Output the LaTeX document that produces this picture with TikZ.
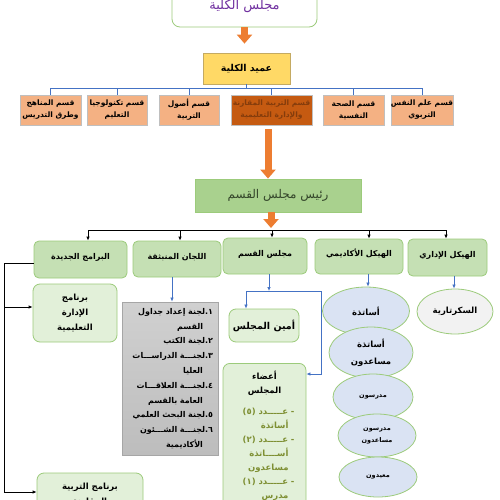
\documentclass[tikz,border=0pt]{standalone}
\usepackage{fontspec}
\newfontfamily\arabicfont[Script=Arabic]{DejaVu Sans}
\TeXXeTstate=1
\usetikzlibrary{arrows.meta, positioning, shapes.geometric}

\definecolor{titlepurple}{HTML}{7030A0}
\definecolor{boxborder}{HTML}{9CCB7B}
\definecolor{deanfill}{HTML}{FFD966}
\definecolor{deanborder}{HTML}{C4AA62}
\definecolor{deptfill}{HTML}{F4B183}
\definecolor{deptborder}{HTML}{BFBFBF}
\definecolor{compfill}{HTML}{C55A11}
\definecolor{comptext}{HTML}{843C0C}
\definecolor{chairfill}{HTML}{A9D18E}
\definecolor{chairtext}{HTML}{34462A}
\definecolor{levelfill}{HTML}{C5E0B4}
\definecolor{lightfill}{HTML}{E2F0D9}
\definecolor{ovalfill}{HTML}{DAE3F3}
\definecolor{secfill}{HTML}{F2F2F2}
\definecolor{greytop}{HTML}{D0D0D0}
\definecolor{greybottom}{HTML}{BDBDBD}
\definecolor{greyborder}{HTML}{A6A6A6}
\definecolor{bluebus}{HTML}{4472C4}
\definecolor{orangefill}{HTML}{ED7D31}
\definecolor{olivetext}{HTML}{7E8F33}

\newcommand{\artext}[1]{{\arabicfont\beginR #1\endR}}

\begin{document}
\begin{tikzpicture}[
		x=1pt, y=-1pt,
		every node/.style={align=center, inner sep=0pt},
		fat arrow/.style={line width=7pt, draw=orangefill, -{Triangle[length=9pt, width=15pt]}},
		blue line/.style={draw=bluebus, line width=0.7pt},
		blue arrow/.style={blue line, -{Latex[length=4pt, width=3.5pt]}},
		black line/.style={draw=black, line width=0.8pt},
		black arrow/.style={black line, -{Latex[length=4pt, width=3.5pt]}},
		dept box/.style={draw=deptborder, fill=deptfill, line width=0.8pt, minimum height=30pt, font=\bfseries\fontsize{7.5}{12}\selectfont},
		level box/.style={draw=boxborder, fill=levelfill, rounded corners=5pt, line width=0.8pt, text height=8pt, text depth=8pt, font=\bfseries\fontsize{8}{10}\selectfont},
		light box/.style={draw=boxborder, fill=lightfill, rounded corners=7pt, line width=0.8pt, font=\bfseries\fontsize{8.5}{15}\selectfont},
		staff oval/.style={ellipse, draw=boxborder, fill=ovalfill, line width=0.8pt, font=\bfseries\fontsize{8.5}{17}\selectfont},
		small oval/.style={staff oval, font=\bfseries\fontsize{6.5}{12}\selectfont}
		]
		
		\fill[white] (0,0) rectangle (500,500);
		\useasboundingbox (0,0) rectangle (500,500);
		
		% Faculty
		\node[draw=boxborder, fill=white, rounded corners=8pt, line width=0.8pt, minimum width=145pt, minimum height=42pt, text=titlepurple, font=\fontsize{13}{15}\selectfont] (college) at (244.5,6) {\artext{مجلس الكلية}};
		\node[draw=deanborder, fill=deanfill, line width=0.8pt, minimum width=87pt, minimum height=31pt, font=\bfseries\fontsize{9.5}{11}\selectfont] (dean) at (246.5,68.5) {\artext{عميد الكلية}};
		
		% Departments
		\node[dept box, minimum width=61pt] (curr) at (50.5,110) {\artext{قسم المناهج}\\\artext{وطرق التدريس}};
		\node[dept box, minimum width=60pt] (tech) at (117,110) {\artext{قسم تكنولوجيا}\\\artext{التعليم}};
		\node[dept box, minimum width=60pt] (found) at (189,110) {\artext{قسم أصول}\\\artext{التربية}};
		\node[dept box, minimum width=81pt, fill=compfill, text=comptext] (comp) at (271.5,110) {\artext{قسم التربية المقارنة}\\\artext{والإدارة التعليمية}};
		\node[dept box, minimum width=61pt] (mental) at (353.5,110) {\artext{قسم الصحة}\\\artext{النفسية}};
		\node[dept box, minimum width=60pt] (psych) at (422,110) {\artext{قسم علم النفس}\\\artext{التربوي}};
		
		% Department council
		\node[draw=boxborder, fill=chairfill, line width=0.8pt, minimum width=166pt, minimum height=33pt, text=chairtext, font=\fontsize{12}{14}\selectfont] (chair) at (278,195.5) {\artext{رئيس مجلس القسم}};
		
		\node[level box, minimum width=93pt, minimum height=37pt] (newprog) at (80.5,259.5) {\artext{البرامج الجديدة}};
		\node[level box, minimum width=88pt, minimum height=36pt] (comm) at (177,259) {\artext{اللجان المنبثقة}};
		\node[level box, minimum width=84pt, minimum height=36pt] (dcouncil) at (265,256) {\artext{مجلس القسم}};
		\node[level box, minimum width=88pt, minimum height=35pt] (acad) at (359,256.5) {\artext{الهيكل الأكاديمي}};
		\node[level box, minimum width=79pt, minimum height=37pt] (admin) at (447.5,257.5) {\artext{الهيكل الإداري}};
		
		% Programmes
		\node[light box, minimum width=84pt, minimum height=58pt] (mgmtprog) at (75,313) {\artext{برنامج}\\\artext{الإدارة}\\\artext{التعليمية}};
		\node[light box, minimum width=106pt, minimum height=43pt] (compprog) at (90,494.5) {\artext{برنامج التربية}\\\artext{المقارنة}};
		
		% Committees
		\node[draw=greyborder, top color=greytop, bottom color=greybottom, line width=0.8pt, minimum width=96pt, minimum height=153pt, text width=86pt, align=right, font=\bfseries\fontsize{8}{14.8}\selectfont] (committees) at (170,378.5) {%
			\artext{١\kern0pt.\kern0pt لجنة إعداد جداول}\\
			\artext{القسم}\kern10pt\\
			\artext{٢\kern0pt.\kern0pt لجنة الكتب}\\
			\artext{٣\kern0pt.\kern0pt لجنـــة الدراســـات}\\
			\artext{العليا}\kern10pt\\
			\artext{٤\kern0pt.\kern0pt لجنـــة العلاقـــات}\\
			\artext{العامة بالقسم}\kern10pt\\
			\artext{٥\kern0pt.\kern0pt لجنة البحث العلمي}\\
			\artext{٦\kern0pt.\kern0pt لجنـــة الشـــئون}\\
			\artext{الأكاديمية}\kern10pt};
		
		% Council members
		\node[light box, minimum width=70pt, minimum height=33pt, font=\bfseries\fontsize{9.5}{15}\selectfont] (amin) at (264,325.5) {\artext{أمين المجلس}};
		\node[light box, anchor=north, text width=60pt, align=right, inner xsep=11.5pt, inner ysep=8pt, font=\bfseries\fontsize{8.5}{14}\selectfont] (members) at (264.5,363) {%
			\makebox[60pt]{\artext{أعضاء}}\\
			\makebox[60pt]{\artext{المجلس}}\\[7pt]
			{\color{olivetext}\artext{- عـــــدد \beginL(٥)\endL}\\
			\artext{أساتذة}\kern6pt\\
			\artext{- عـــــدد \beginL(٢)\endL}\\
			\artext{أســــاتذة}\kern6pt\\
			\artext{مساعدون}\kern6pt\\
			\artext{- عـــــدد \beginL(١)\endL}\\
			\artext{مدرس}\kern6pt}};
		
		% Academic staff
		\node[staff oval, minimum width=87pt, minimum height=48pt] (prof) at (366,311) {\artext{أساتذة}};
		\node[staff oval, minimum width=84pt, minimum height=51pt] (assoc) at (371,352.5) {\artext{أساتذة}\\\artext{مساعدون}};
		\node[small oval, minimum width=80pt, minimum height=46pt] (lect) at (373,397) {\artext{مدرسون}};
		\node[small oval, minimum width=78pt, minimum height=43pt] (asslect) at (377,435.5) {\artext{مدرسون}\\\artext{مساعدون}};
		\node[small oval, minimum width=78pt, minimum height=40pt] (demo) at (378,477) {\artext{معيدون}};
		\node[staff oval, fill=secfill, minimum width=76pt, minimum height=45pt] (sec) at (455,311.5) {\artext{السكرتارية}};
		
		% Connectors
		\draw[fat arrow, shorten >=9pt] (college.south) -- (college.south |- dean.north);
		\foreach \d in {curr,tech,found,comp,mental,psych}
			\draw[blue line] (dean.south) -- ++(0,4) -| (\d.north);
		\draw[fat arrow, shorten <=4pt] ([xshift=-3.5pt]comp.south) -- ([xshift=-3.5pt]comp.south |- chair.north);
		
		\coordinate (hub) at (271,230);
		\draw[fat arrow, shorten >=2pt] ([xshift=-7pt]chair.south) -- (hub);
		\draw[black line] ([xshift=7.5pt]newprog.north |- hub) -- ([xshift=-1.5pt]admin.north |- hub);
		\foreach \b/\s in {newprog/7.5, comm/3, dcouncil/7, acad/10, admin/-1.5}
			\draw[black arrow] ([xshift=\s pt]\b.north |- hub) -- ([xshift=\s pt]\b.north);
		
		\draw[black arrow] ([yshift=-3.5pt]newprog.west) -- ++(-29,0) coordinate (elbow) |- ([yshift=2.5pt]compprog.west);
		\draw[black arrow] (elbow) |- ([yshift=6pt]mgmtprog.west);
		
		\draw[blue arrow] ([xshift=-5pt]comm.south) -- ([xshift=-5pt]comm.south |- committees.north);
		
		\coordinate (split) at (269,291);
		\draw[blue arrow] ([xshift=4pt]dcouncil.south) -- (split);
		\draw[blue arrow] (split) -| ([xshift=-18pt]amin.north);
		\draw[blue arrow] (split) -- ++(52,0) |- ([yshift=-11pt]members.north east);
		
		\draw[blue arrow] ([xshift=9pt]acad.south) -- ([xshift=9pt]acad.south |- prof.north);
		\draw[blue arrow] ([xshift=6.5pt]admin.south) -- ([xshift=6.5pt]admin.south |- sec.north);
		
	\end{tikzpicture}
\end{document}
